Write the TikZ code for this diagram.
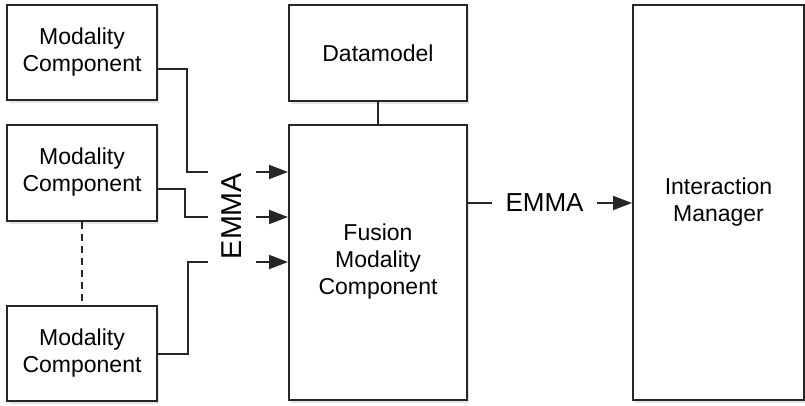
\documentclass[tikz,border=0pt]{standalone}
\usepackage{fontspec}
\setmainfont{Liberation Sans}
\usetikzlibrary{arrows.meta,shadows}
\newcommand{\boxtext}[2][3pt]{\raisebox{-#1}{\begin{tabular}{@{}c@{}}#2\end{tabular}}}
\begin{document}
\begin{tikzpicture}[x=1pt,y=-1pt,
  box/.style={draw=black!85,line width=2pt,fill=white,rectangle,align=center,
    font=\fontsize{23}{27}\selectfont,
    drop shadow={opacity=0.2,shadow xshift=2pt,shadow yshift=-2.5pt}},
  conn/.style={line width=2pt,draw=black!85},
  arr/.style={conn,-{Triangle[length=19pt,width=14pt]}},
  lbl/.style={font=\fontsize{26}{30}\selectfont,inner sep=0pt}]
\useasboundingbox[fill=white] (0,0) rectangle (805,405);
% boxes
\node[box,minimum width=150pt,minimum height=95pt] (mc1) at (82,52.5) {\boxtext{Modality\\Component}};
\node[box,minimum width=150pt,minimum height=96pt] (mc2) at (82,173) {\boxtext{Modality\\Component}};
\node[box,minimum width=150pt,minimum height=95pt] (mc3) at (82,353.5) {\boxtext{Modality\\Component}};
\node[box,minimum width=178pt,minimum height=96pt] (dm) at (378,53) {Datamodel};
\node[box,minimum width=178pt,minimum height=275pt] (fu) at (378,262.5) {\boxtext{Fusion\\Modality\\Component}};
\node[box,minimum width=171pt,minimum height=395pt] (im) at (718.5,202.5) {\boxtext[5pt]{Interaction\\Manager}};
% dashed link and datamodel link
\draw[conn,dash pattern=on 7pt off 5pt] (mc2.south) -- (mc3.north);
\draw[conn] (dm.south) -- (fu.north);
% label EMMA (rotated)
\node[lbl,font=\fontsize{28.7}{30}\selectfont,rotate=90] (emma1) at (231.5,216) {EMMA};
% connector ends
\coordinate (e1) at (208,172);
\coordinate (e2) at (208,217);
\coordinate (e3) at (208,262);
\coordinate (s1) at (256,172);
\coordinate (s2) at (256,217);
\coordinate (s3) at (256,262);
\draw[conn] ([yshift=-16.5pt]mc1.east) -| (187,172) -- (e1);
\draw[conn] ([yshift=-16pt]mc2.east) -| (185,217) -- (e2);
\draw[conn] (mc3.east) -| (188,262) -- (e3);
\draw[arr] (s1) -- (s1 -| fu.west);
\draw[arr] (s2) -- (s2 -| fu.west);
\draw[arr] (s3) -- (s3 -| fu.west);
% output EMMA
\node[lbl] (emma2) at (544.5,203) {EMMA};
\coordinate (o1) at (492,203);
\coordinate (o2) at (597,203);
\draw[conn] (o1 -| fu.east) -- (o1);
\draw[arr] (o2) -- (o2 -| im.west);
\end{tikzpicture}
\end{document}
